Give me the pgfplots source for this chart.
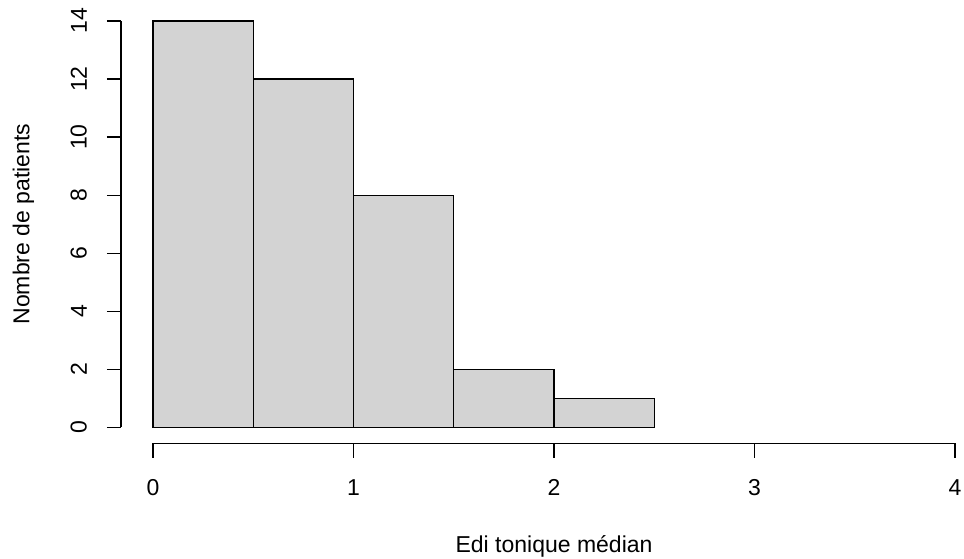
\documentclass[border=0pt]{standalone}
\usepackage{pgfplots}
\pgfplotsset{compat=1.18}
\usepackage{fontspec}
\setmainfont{Liberation Sans}
\definecolor{rgray}{HTML}{D3D3D3}
\begin{document}
\begin{tikzpicture}
\useasboundingbox (-121pt,-115.5pt) rectangle (843pt,443.5pt);
\begin{axis}[
  at={(0,0)}, anchor=south west,
  scale only axis, width=834pt, height=422.5pt,
  xmin=-0.16, xmax=4, ymin=-0.56, ymax=14,
  clip=false,
  axis line style={draw=none},
  tick pos=left, tick align=outside,
  major tick length=14pt,
  every tick/.style={black, line width=1.2pt},
  xtick={0,1,2,3,4}, ytick={0,2,4,6,8,10,12,14},
  font=\fontsize{23}{28}\selectfont,
  /pgf/number format/assume math mode=true,
  xticklabel style={anchor=north, inner sep=0pt, yshift=-22pt},
  yticklabel style={rotate=90, anchor=south, inner sep=0pt, yshift=20pt},
  xlabel={Edi tonique médian},
  ylabel={Nombre de patients},
  xlabel style={anchor=base, at={(axis cs:2,-0.56)}, yshift=-109.5pt, inner sep=0pt},
  ylabel style={anchor=base, at={(axis cs:-0.16,7)}, yshift=91.5pt, inner sep=0pt},
]
\addplot[ybar interval, fill=rgray, draw=black, line width=1.2pt] coordinates {
  (0,14) (0.5,12) (1,8) (1.5,2) (2,1) (2.5,1)
};
\addplot[black, line width=1.2pt] coordinates {(0,-0.56) (4,-0.56)};
\addplot[black, line width=1.2pt] coordinates {(-0.16,0) (-0.16,14)};
\end{axis}
\end{tikzpicture}
\end{document}
